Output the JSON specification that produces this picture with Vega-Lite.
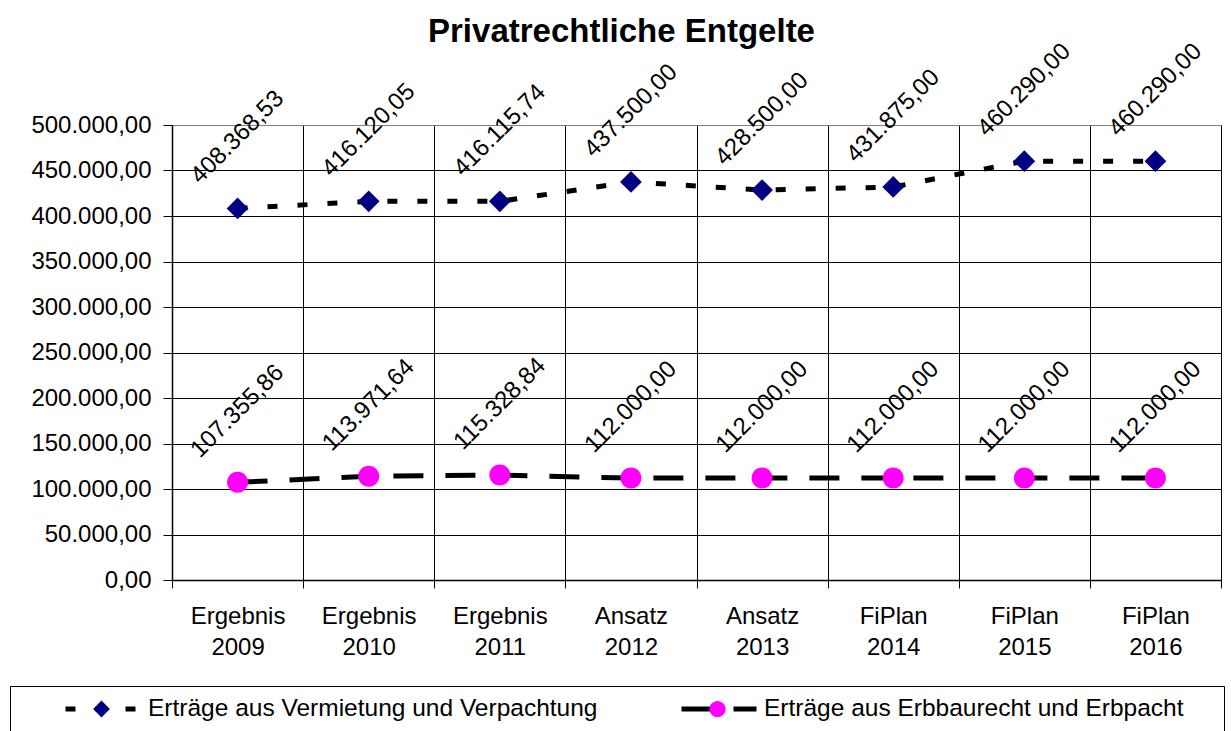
{
  "$schema": "https://vega.github.io/schema/vega-lite/v6.json",
  "autosize": "none",
  "width": 1049,
  "height": 455,
  "padding": {"left": 172, "top": 125, "right": 10, "bottom": 151},
  "background": "white",
  "title": {
    "text": "Privatrechtliche Entgelte",
    "fontSize": 33,
    "fontWeight": "bold",
    "color": "black",
    "anchor": "middle",
    "frame": "group",
    "dx": -75,
    "offset": -36,
    "baseline": "alphabetic"
  },
  "data": {
    "values": [
      {"cat": "Ergebnis 2009", "series": "Erträge aus Vermietung und Verpachtung", "value": 408368.53},
      {"cat": "Ergebnis 2010", "series": "Erträge aus Vermietung und Verpachtung", "value": 416120.05},
      {"cat": "Ergebnis 2011", "series": "Erträge aus Vermietung und Verpachtung", "value": 416115.74},
      {"cat": "Ansatz 2012", "series": "Erträge aus Vermietung und Verpachtung", "value": 437500.00},
      {"cat": "Ansatz 2013", "series": "Erträge aus Vermietung und Verpachtung", "value": 428500.00},
      {"cat": "FiPlan 2014", "series": "Erträge aus Vermietung und Verpachtung", "value": 431875.00},
      {"cat": "FiPlan 2015", "series": "Erträge aus Vermietung und Verpachtung", "value": 460290.00},
      {"cat": "FiPlan 2016", "series": "Erträge aus Vermietung und Verpachtung", "value": 460290.00},
      {"cat": "Ergebnis 2009", "series": "Erträge aus Erbbaurecht und Erbpacht", "value": 107355.86},
      {"cat": "Ergebnis 2010", "series": "Erträge aus Erbbaurecht und Erbpacht", "value": 113971.64},
      {"cat": "Ergebnis 2011", "series": "Erträge aus Erbbaurecht und Erbpacht", "value": 115328.84},
      {"cat": "Ansatz 2012", "series": "Erträge aus Erbbaurecht und Erbpacht", "value": 112000.00},
      {"cat": "Ansatz 2013", "series": "Erträge aus Erbbaurecht und Erbpacht", "value": 112000.00},
      {"cat": "FiPlan 2014", "series": "Erträge aus Erbbaurecht und Erbpacht", "value": 112000.00},
      {"cat": "FiPlan 2015", "series": "Erträge aus Erbbaurecht und Erbpacht", "value": 112000.00},
      {"cat": "FiPlan 2016", "series": "Erträge aus Erbbaurecht und Erbpacht", "value": 112000.00}
    ]
  },
  "encoding": {
    "x": {
      "field": "cat",
      "type": "nominal",
      "sort": null,
      "scale": {"type": "band", "paddingInner": 0, "paddingOuter": 0},
      "axis": {
        "title": null,
        "tickBand": "extent",
        "labelExpr": "split(datum.label, ' ')",
        "labelFontSize": 24,
        "labelLineHeight": 31,
        "labelColor": "black",
        "labelPadding": 16,
        "labelAngle": 0,
        "labelBaseline": "top",
        "labelOverlap": false,
        "labelLimit": 500,
        "tickSize": 8,
        "tickColor": "black",
        "domainColor": "black",
        "domainWidth": 1.5,
        "grid": true,
        "gridColor": "black",
        "gridWidth": 1
      }
    },
    "y": {
      "field": "value",
      "type": "quantitative",
      "scale": {"domain": [0, 500000], "nice": false},
      "axis": {
        "title": null,
        "values": [0, 50000, 100000, 150000, 200000, 250000, 300000, 350000, 400000, 450000, 500000],
        "format": ",.2f",
        "labelFontSize": 24,
        "labelColor": "black",
        "labelPadding": 12,
        "tickSize": 9,
        "tickColor": "black",
        "domainColor": "black",
        "domainWidth": 1.5,
        "grid": true,
        "gridColor": {"condition": {"test": "datum.value === 500000", "value": "#808080"}, "value": "black"},
        "gridWidth": 1
      }
    }
  },
  "layer": [
    {
      "mark": {"type": "line", "color": "black", "strokeWidth": 5},
      "encoding": {
        "strokeDash": {
          "field": "series",
          "type": "nominal",
          "sort": ["Erträge aus Vermietung und Verpachtung", "Erträge aus Erbbaurecht und Erbpacht"],
          "scale": {"range": [[10, 20], [30, 22]]},
          "legend": {
            "orient": "none",
            "legendX": -162,
            "legendY": 561,
            "direction": "horizontal",
            "columns": 2,
            "gridAlign": "all",
            "padding": 11,
            "strokeColor": "black",
            "symbolType": "stroke",
            "symbolSize": 5625,
            "symbolStrokeWidth": 5,
            "symbolStrokeColor": "black",
            "symbolOffset": 42,
            "clipHeight": 24,
            "labelFontSize": 24.5,
            "labelColor": "black",
            "labelOffset": 5,
            "labelLimit": 1000,
            "columnPadding": 39,
            "title": ".",
            "titleOpacity": 0,
            "titleOrient": "right",
            "titleFontSize": 24.5,
            "titlePadding": 23
          }
        }
      }
    },
    {
      "mark": {"type": "point", "filled": true, "size": 5625, "opacity": 1, "strokeWidth": 0},
      "encoding": {
        "shape": {
          "field": "series",
          "type": "nominal",
          "scale": {
            "domain": ["Erträge aus Vermietung und Verpachtung", "Erträge aus Erbbaurecht und Erbpacht"],
            "range": [
              "M-0.29,0L0,-0.29L0.29,0L0,0.29Z",
              "M0.28,0C0.28,0.1546,0.1546,0.28,0,0.28C-0.1546,0.28,-0.28,0.1546,-0.28,0C-0.28,-0.1546,-0.1546,-0.28,0,-0.28C0.1546,-0.28,0.28,-0.1546,0.28,0Z"
            ]
          },
          "legend": {
            "orient": "none",
            "legendX": -113,
            "legendY": 561,
            "direction": "horizontal",
            "columns": 2,
            "gridAlign": "all",
            "padding": 11,
            "symbolSize": 3359,
            "symbolStrokeWidth": 5,
            "symbolStrokeColor": "transparent",
            "clipHeight": 24,
            "labelFontSize": 24.5,
            "labelOffset": 5,
            "labelExpr": "''",
            "columnPadding": 548,
            "title": null
          }
        },
        "fill": {
          "field": "series",
          "type": "nominal",
          "scale": {
            "domain": ["Erträge aus Vermietung und Verpachtung", "Erträge aus Erbbaurecht und Erbpacht"],
            "range": ["#000080", "#FF00FF"]
          },
          "legend": {
            "orient": "none",
            "legendX": -113,
            "legendY": 561,
            "direction": "horizontal",
            "columns": 2,
            "gridAlign": "all",
            "padding": 11,
            "symbolSize": 3359,
            "symbolStrokeWidth": 5,
            "symbolStrokeColor": "transparent",
            "clipHeight": 24,
            "labelFontSize": 24.5,
            "labelOffset": 5,
            "labelExpr": "''",
            "columnPadding": 548,
            "title": null
          }
        }
      }
    },
    {
      "mark": {"type": "text", "angle": 315, "radius": 71, "align": "center", "baseline": "middle", "fontSize": 24, "color": "black"},
      "encoding": {
        "text": {"field": "value", "type": "quantitative", "format": ",.2f"}
      }
    }
  ],
  "config": {
    "font": "Liberation Sans",
    "view": {"stroke": "#808080", "strokeWidth": 1},
    "locale": {
      "number": {"decimal": ",", "thousands": ".", "grouping": [3], "currency": ["", "\u00a0€"]}
    }
  }
}
